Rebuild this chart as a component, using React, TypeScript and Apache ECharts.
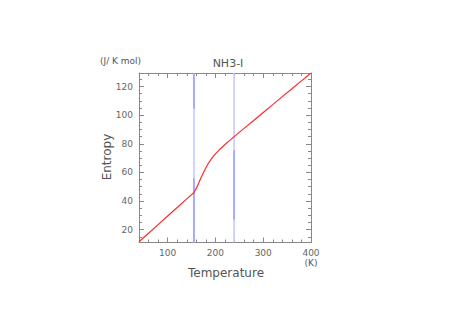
import React, { useEffect, useRef } from "react";
import * as echarts from "echarts";

const temperature = [40, 60, 80, 100, 120, 140, 155, 160, 165, 170, 175, 180, 185, 190, 195, 200, 210, 220, 230, 239, 260, 280, 300, 320, 340, 360, 380, 400];
const entropy = [11.5, 17.5, 23.5, 29.5, 35.5, 41.5, 46, 49, 52.6, 56.4, 60, 63.3, 66.2, 68.8, 71, 73, 76.4, 79.5, 82.4, 85, 90.8, 96.3, 101.9, 107.4, 113, 118.5, 124, 129.5];

const transitionTemps = [155, 239];
// darker segments on transition lines: [temperature, from, to]
const darkSegments: [number, number, number][] = [
  [155, 104.5, 129.5],
  [155, 11, 56],
  [239, 27, 75.5],
];

const xMajor = [100, 200, 300, 400];
const xMinor = [60, 80, 120, 140, 160, 180, 220, 240, 260, 280, 320, 340, 360, 380];
const yMajor = [20, 40, 60, 80, 100, 120];
const yMinor = [15, 25, 30, 35, 45, 50, 55, 65, 70, 75, 85, 90, 95, 105, 110, 115, 125];

const X_MIN = 40, X_MAX = 400, Y_MIN = 11, Y_MAX = 129.5;

export default function App() {
  const ref = useRef<HTMLDivElement>(null);
  useEffect(() => {
    const chart = echarts.init(ref.current!, null, { renderer: "svg" });
    const axisColor = "#888";
    const font = "'DejaVu Sans'";
    const mkX = (pos: "top" | "bottom", vals: number[], len: number, labels: boolean, line: boolean) => ({
      type: "value", position: pos, min: X_MIN, max: X_MAX, gridIndex: 0,
      axisLine: { show: line, onZero: false, lineStyle: { color: axisColor, width: 1 } },
      axisTick: { show: true, inside: true, length: len, customValues: vals, lineStyle: { color: axisColor } },
      axisLabel: labels ? { show: true, customValues: xMajor, color: "#666", fontSize: 9, fontFamily: font, margin: 6 } : { show: false },
      splitLine: { show: false },
    });
    const mkY = (pos: "left" | "right", vals: number[], len: number, labels: boolean, line: boolean) => ({
      type: "value", position: pos, min: Y_MIN, max: Y_MAX, gridIndex: 0,
      axisLine: { show: line, onZero: false, lineStyle: { color: axisColor, width: 1 } },
      axisTick: { show: true, inside: true, length: len, customValues: vals, lineStyle: { color: axisColor } },
      axisLabel: labels ? { show: true, customValues: yMajor, color: "#666", fontSize: 9, fontFamily: font, margin: 6 } : { show: false },
      splitLine: { show: false },
    });
    const series: any[] = [];
    transitionTemps.forEach((t) => {
      series.push({
        type: "line", data: [[t, Y_MIN], [t, Y_MAX]], symbol: "none", silent: true,
        lineStyle: { color: "#c4c6ff", width: 1.5 }, z: 1,
      });
    });
    darkSegments.forEach(([t, a, b]) => {
      series.push({
        type: "line", data: [[t, a], [t, b]], symbol: "none", silent: true,
        lineStyle: { color: "#9a9eff", width: 1.5 }, z: 2,
      });
    });
    series.push({
      type: "line", data: temperature.map((t, i) => [t, entropy[i]]), symbol: "none", smooth: false,
      lineStyle: { color: "#ff2a2a", width: 1.2 }, z: 3,
    });
    chart.setOption({
      animation: false,
      backgroundColor: "#fff",
      grid: { left: 139, right: 139, top: 73, bottom: 75.5, containLabel: false },
      xAxis: [
        mkX("bottom", xMajor, 5, true, true),
        mkX("bottom", xMinor, 3, false, false),
        mkX("top", xMajor, 5, false, true),
        mkX("top", xMinor, 3, false, false),
      ],
      yAxis: [
        mkY("left", yMajor, 5, true, true),
        mkY("left", yMinor, 3, false, false),
        mkY("right", yMajor, 5, false, true),
        mkY("right", yMinor, 3, false, false),
      ],
      series,
      graphic: [
        { type: "text", x: 228, y: 63, style: { text: "NH3-I", fill: "#555", font: `11px ${font}`, textAlign: "center", textVerticalAlign: "middle" } },
        { type: "text", x: 100, y: 61, style: { text: "(J/ K mol)", fill: "#555", font: `9px ${font}`, textAlign: "left", textVerticalAlign: "middle" } },
        { type: "text", x: 107, y: 157, rotation: Math.PI / 2, style: { text: "Entropy", fill: "#555", font: `12px ${font}`, textAlign: "center", textVerticalAlign: "middle" } },
        { type: "text", x: 226, y: 273, style: { text: "Temperature", fill: "#555", font: `12px ${font}`, textAlign: "center", textVerticalAlign: "middle" } },
        { type: "text", x: 311, y: 263, style: { text: "(K)", fill: "#555", font: `9px ${font}`, textAlign: "center", textVerticalAlign: "middle" } },
      ],
    });
    return () => chart.dispose();
  }, []);
  return <div ref={ref} style={{ width: 450, height: 318, position: "absolute", left: 0, top: 0 }} />;
}
